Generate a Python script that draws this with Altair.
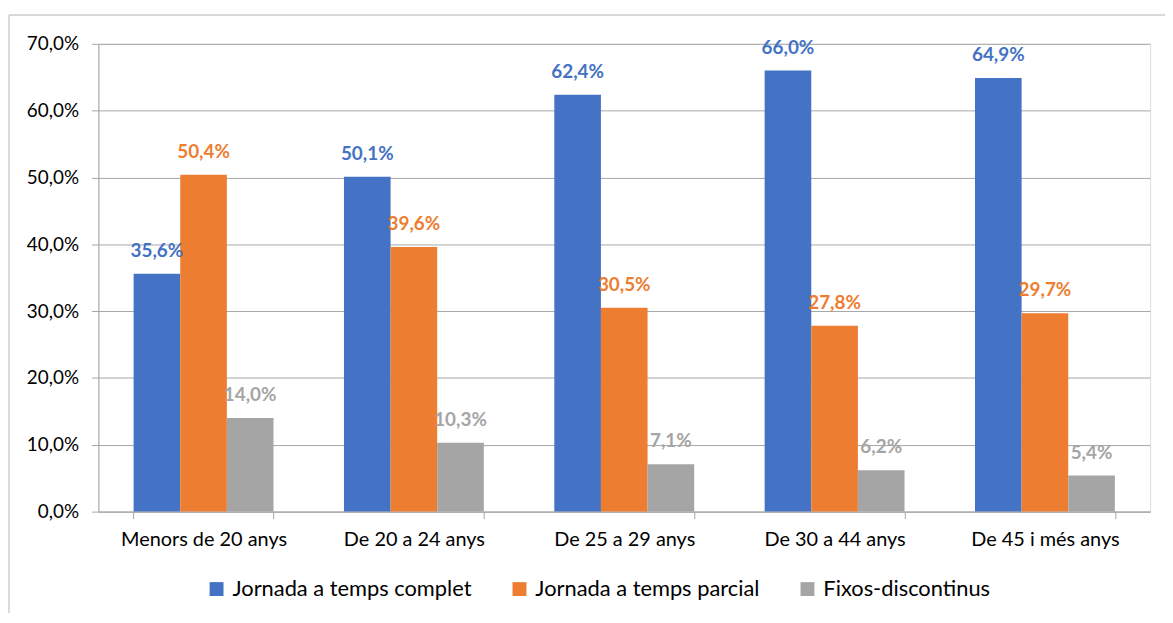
import altair as alt
import pandas as pd

categories = ["Menors de 20 anys", "De 20 a 24 anys", "De 25 a 29 anys", "De 30 a 44 anys", "De 45 i més anys"]
series = ["Jornada a temps complet", "Jornada a temps parcial", "Fixos-discontinus"]
complet = [35.6, 50.1, 62.4, 66.0, 64.9]
parcial = [50.4, 39.6, 30.5, 27.8, 29.7]
fixos = [14.0, 10.3, 7.1, 6.2, 5.4]
colors = ["#4472C4", "#ED7D31", "#A5A5A5"]
y_ticks = [0, 0.1, 0.2, 0.3, 0.4, 0.5, 0.6, 0.7]

rows = []
for s, vals in zip(series, [complet, parcial, fixos]):
    for c, v in zip(categories, vals):
        rows.append({"cat": c, "serie": s, "val": v / 100})
df = pd.DataFrame(rows)

W, H = 1059, 471
FONT = "Lato"
GRID = "#A6A6A6"

x = alt.X(
    "cat:N", sort=categories, title=None,
    scale=alt.Scale(paddingInner=0.335, paddingOuter=0.1675),
    axis=alt.Axis(labelAngle=0, tickBand="extent", tickSize=7, domainColor=GRID,
                  tickColor=GRID, labelFont=FONT, labelFontSize=20, labelColor="#000000",
                  labelPadding=11, grid=False),
)
y = alt.Y(
    "val:Q", title=None,
    scale=alt.Scale(domain=[0, 0.7], nice=False),
    axis=alt.Axis(values=y_ticks, format=".1%", tickSize=7, domainColor=GRID, tickColor=GRID,
                  gridColor=GRID, labelFont=FONT, labelFontSize=19, labelColor="#000000",
                  labelPadding=13),
)
xo = alt.XOffset("serie:N", sort=series)
color_scale = alt.Scale(domain=series, range=colors)

base = alt.Chart(df)
bars = base.mark_bar().encode(
    x=x, y=y, xOffset=xo,
    color=alt.Color("serie:N", sort=series, scale=color_scale,
                    legend=alt.Legend(title=None, orient="none", legendX=108, legendY=538,
                                      direction="horizontal", symbolType="square",
                                      symbolSize=196, symbolStrokeWidth=0,
                                      labelFont=FONT, labelFontSize=22, labelColor="#000000",
                                      labelLimit=0, labelOffset=5, columnPadding=37,
                                      padding=0)),
)
labels = base.mark_text(dy=-17, baseline="alphabetic", fontWeight="bold", fontSize=19,
                        font=FONT).encode(
    x=x, y=y, xOffset=xo,
    text=alt.Text("val:Q", format=".1%"),
    color=alt.Color("serie:N", sort=series, scale=color_scale, legend=None),
)

frame = alt.Chart(alt.Data(values=[{"a": 1}]))
top_line = frame.mark_rule(color="#B4B4B4", strokeWidth=1).encode(
    x=alt.value(-90), x2=alt.value(1080), y=alt.value(-29))
left_line = frame.mark_rule(color="#B4B4B4", strokeWidth=1).encode(
    x=alt.value(-90), y=alt.value(-29), y2=alt.value(600))

chart = alt.layer(top_line, left_line, bars, labels).properties(
    width=W, height=H,
    autosize=alt.AutoSizeParams(type="none"),
    padding={"left": 91, "top": 34, "right": 15, "bottom": 100},
).configure_view(stroke=None).configure(
    locale={"number": {"decimal": ",", "thousands": ".", "grouping": [3], "currency": ["", " €"]}}
)

chart.save("out.html", embed_options={"renderer": "svg", "actions": False})
